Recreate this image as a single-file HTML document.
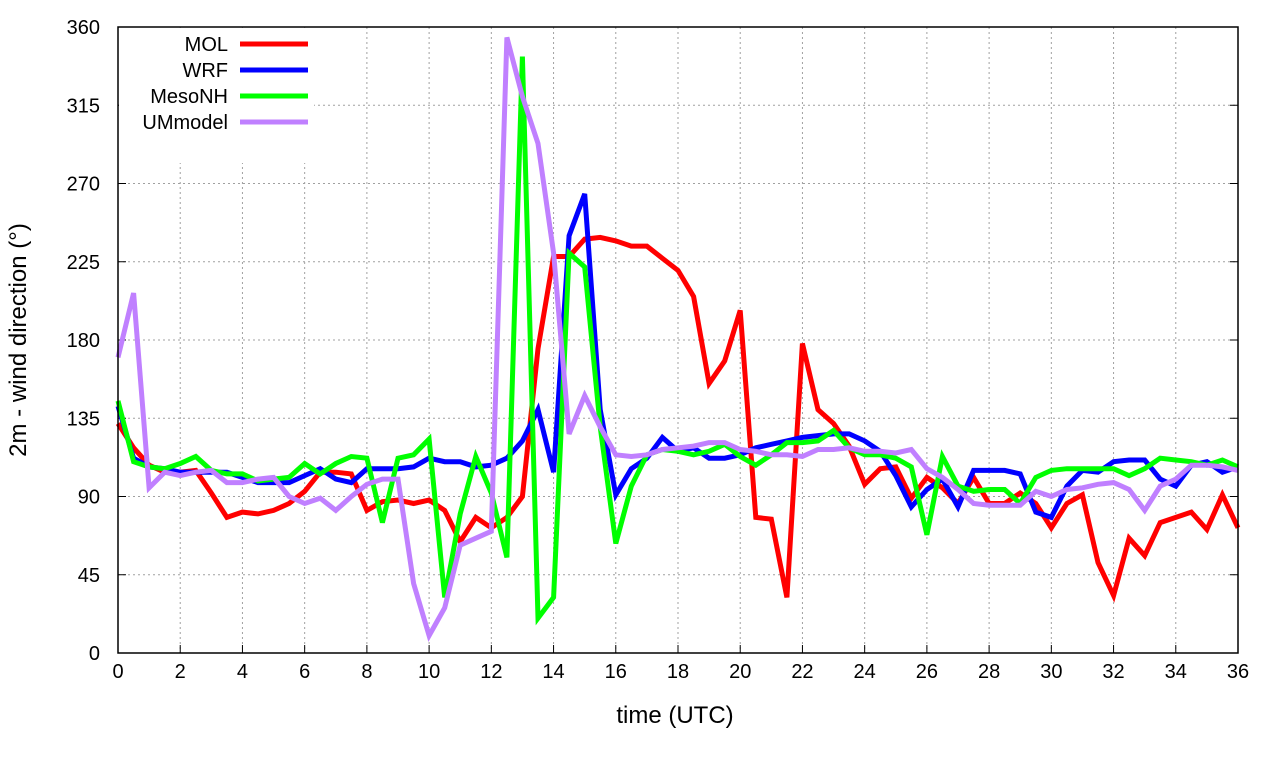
<!DOCTYPE html>
<html><head><meta charset="utf-8"><style>
body{margin:0;background:#fff}
svg text{font-family:"Liberation Sans",sans-serif;fill:#000}
</style></head><body>
<svg id="chart" width="1280" height="760" xmlns="http://www.w3.org/2000/svg"></svg>
<script>
const xTicks=[0,2,4,6,8,10,12,14,16,18,20,22,24,26,28,30,32,34,36];
const yTicks=[0,45,90,135,180,225,270,315,360];
const seriesNames=["MOL","WRF","MesoNH","UMmodel"];
const seriesColors=["#ff0000","#0000ff","#00ff00","#c080ff"];
const molValues=[132,118,108,104,104,105,92,78,81,80,82,86,93,104,104,103,82,87,88,86,88,82,64,78,72,78,90,175,228,228,238,239,237,234,234,227,220,205,155,168,197,78,77,32,178,140,132,119,97,106,107,89,101,95,86,101,86,86,92,86,72,86,91,52,33,66,56,75,78,81,71,91,72];
const wrfValues=[142,112,107,106,104,104,104,104,101,98,98,98,102,106,100,98,106,106,106,107,112,110,110,107,108,112,122,140,104,240,264,140,91,106,112,124,116,118,112,112,114,118,120,122,124,125,126,126,122,116,102,84,94,100,84,105,105,105,103,81,78,96,105,104,110,111,111,100,96,108,110,104,107];
const mesoValues=[145,110,107,106,109,113,105,103,103,99,100,101,109,103,109,113,112,75,112,114,123,32,80,113,92,55,343,20,32,230,222,130,63,96,114,117,116,114,116,120,113,108,114,121,121,122,128,118,114,114,112,107,68,113,96,93,94,94,86,101,105,106,106,106,106,102,106,112,111,110,108,111,107];
const umValues=[170,207,95,104,102,104,105,98,98,100,101,90,86,89,82,90,97,100,100,40,10,26,62,66,70,354,320,293,230,126,148,130,114,113,114,117,118,119,121,121,117,116,114,114,113,117,117,118,116,116,115,117,106,101,94,86,85,85,85,93,90,94,95,97,98,94,82,96,100,108,108,107,105];
const timeStep=0.5;
const allSeries=[molValues,wrfValues,mesoValues,umValues];
const L=118,R=1238,T=27,B=653;
const xs=t=>L+(t-0)/36*(R-L);
const ys=v=>B-v/360*(B-T);
const svg=document.getElementById('chart');
const NS="http://www.w3.org/2000/svg";
function mk(tag,attrs,parent){const e=document.createElementNS(NS,tag);for(const k in attrs)e.setAttribute(k,attrs[k]);(parent||svg).appendChild(e);return e;}
// grid
xTicks.forEach(t=>{
  const x=xs(t);
  if(t>0&&t<36){const g=mk('line',{x1:x,x2:x,y1:T,y2:B,stroke:'#a0a0a0','stroke-width':1,'stroke-dasharray':'2,3'});
  
  }
  const tk=mk('line',{x1:x,x2:x,y1:B,y2:B-8,stroke:'#000','stroke-width':1});
  
  
  const tx=mk('text',{x:x,y:B+25,'text-anchor':'middle','font-size':20});
  tx.textContent=t;
  
  
});
yTicks.forEach(v=>{
  const y=ys(v);
  if(v>0&&v<360){const g=mk('line',{x1:L,x2:R,y1:y,y2:y,stroke:'#a0a0a0','stroke-width':1,'stroke-dasharray':'2,3'});
  
  }
  const tk=mk('line',{x1:L,x2:L+8,y1:y,y2:y,stroke:'#000','stroke-width':1});
  
  
  const tk2=mk('line',{x1:R,x2:R-8,y1:y,y2:y,stroke:'#000','stroke-width':1});
  
  
  const tx=mk('text',{x:100,y:y+7,'text-anchor':'end','font-size':20});
  tx.textContent=v;
  
  
});
// legend background
const lb=mk('rect',{x:119,y:28,width:195,height:135,fill:'#fff'});


// series
allSeries.forEach((vals,i)=>{
  const pts=vals.map((v,j)=>xs(j*timeStep).toFixed(1)+','+ys(v).toFixed(1)).join(' ');
  const pl=mk('polyline',{points:pts,fill:'none',stroke:seriesColors[i],'stroke-width':5,'stroke-linejoin':'miter'});
  
  
});
// legend
seriesNames.forEach((n,i)=>{
  const y=44+i*26;
  const t=mk('text',{x:228,y:y+7,'text-anchor':'end','font-size':20});
  t.textContent=n;
  
  
  const l=mk('line',{x1:240,x2:308,y1:y,y2:y,stroke:seriesColors[i],'stroke-width':5});
  
  
});
// frame
const fr=mk('rect',{x:L,y:T,width:R-L,height:B-T,fill:'none',stroke:'#000','stroke-width':1.5});


const xl=mk('text',{x:675,y:723,'text-anchor':'middle','font-size':24});
xl.textContent='time (UTC)';


const yl=mk('text',{x:26,y:340,'text-anchor':'middle','font-size':24,transform:'rotate(-90 26 340)'});
yl.textContent='2m - wind direction (°)';


</script>
</body></html>
